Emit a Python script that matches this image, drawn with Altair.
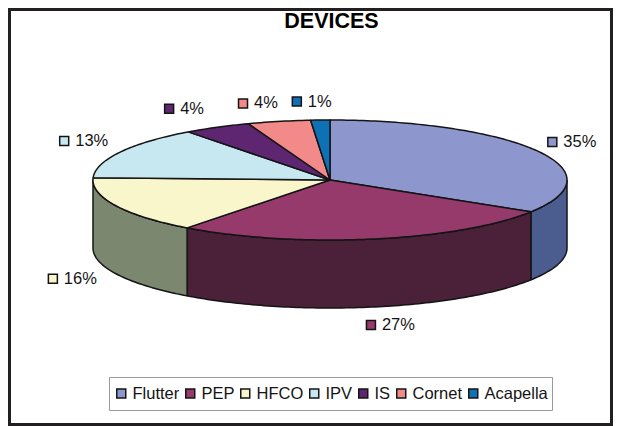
import math
import altair as alt
import pandas as pd

names = ["Flutter", "PEP", "HFCO", "IPV", "IS", "Cornet", "Acapella"]
shown = [35, 27, 16, 13, 4, 4, 1]
shares = [33.9, 26.4, 15.3, 14.2, 4.6, 4.3, 1.3]  # slice sizes as drawn in the picture
top_colors = ["#8e97cd", "#953a6b", "#f9f6cc", "#c7e8f1", "#5e2570", "#f38a8a", "#0f71b5"]
side_colors = ["#4b5d8e", "#4a2139", "#7c8770", "#7c8770", "#7c8770", "#7c8770", "#7c8770"]

# style: pie geometry and label placement
CX, CY, RX, RY, DEPTH = 330, 180, 237, 60, 68
label_off = [(15, -9), (-2, 86), (-63, 73), (-56, -11), (-48, -18.5), (-36, -18), (-23.5, -18.5)]
FONT = "Liberation Sans"
INK = "#141414"


def rim(deg, drop=0.0):
    a = math.radians(deg)
    return CX + RX * math.sin(a), CY - RY * math.cos(a) + drop


tops, sides, labels = [], [], []
start = 0.0
for n, sh, pct, off in zip(names, shares, shown, label_off):
    end = start + sh * 3.6
    steps = max(2, int(end - start))
    arc = [start + (end - start) * k / steps for k in range(steps + 1)]
    pts = [(CX, CY)] + [rim(d) for d in arc] + [(CX, CY)]
    tops += [{"name": n, "i": i, "x": p[0], "y": p[1]} for i, p in enumerate(pts)]
    lo, hi = max(start, 90), min(end, 270)
    if hi > lo:
        st = max(2, int(hi - lo))
        front = [lo + (hi - lo) * k / st for k in range(st + 1)]
        sp = [rim(d) for d in front] + [rim(d, DEPTH) for d in reversed(front)]
        sp.append(sp[0])
        sides += [{"name": n, "i": i, "x": p[0], "y": p[1]} for i, p in enumerate(sp)]
    mx, my = rim((start + end) / 2)
    labels.append({"name": n, "x": mx + off[0], "y": my + off[1], "tx": mx + off[0] + 11, "label": f"{pct}%"})
    start = end

xs = alt.Scale(domain=[8, 613], range=[0, 605])
ys = alt.Scale(domain=[8, 426], range=[0, 418])
X = alt.X("x:Q", scale=xs, axis=None)
Y = alt.Y("y:Q", scale=ys, axis=None)

side_layer = alt.Chart(pd.DataFrame(sides)).mark_line(stroke=INK, strokeWidth=1.5, strokeJoin="round").encode(
    x=X, y=Y, order="i:Q",
    fill=alt.Fill("name:N", scale=alt.Scale(domain=names, range=side_colors), legend=None),
)
top_layer = alt.Chart(pd.DataFrame(tops)).mark_line(stroke=INK, strokeWidth=1.5, strokeJoin="round").encode(
    x=X, y=Y, order="i:Q",
    fill=alt.Fill("name:N", scale=alt.Scale(domain=names, range=top_colors), legend=None),
)
lab = pd.DataFrame(labels)
keys = alt.Chart(lab).mark_square(size=81, opacity=1, stroke=INK, strokeWidth=1.5).encode(
    x=X, y=Y,
    fill=alt.Fill("name:N", scale=alt.Scale(domain=names, range=top_colors), legend=alt.Legend(
        title=None, orient="none", legendX=101, legendY=369, direction="horizontal", columns=7,
        symbolType="square", symbolSize=81, symbolStrokeColor=INK, symbolStrokeWidth=1.5,
        symbolOpacity=1, labelFont=FONT, labelFontSize=16.5, labelColor=INK, labelOffset=3,
        columnPadding=2.0, strokeColor="#999999", fillColor="white", padding=4, labelLimit=200,
        clipHeight=25,
    )),
)
texts = alt.Chart(lab).mark_text(align="left", baseline="middle", font=FONT, fontSize=16.5, color=INK).encode(
    x=alt.X("tx:Q", scale=xs, axis=None), y=Y, text="label:N",
)

chart = (
    alt.layer(side_layer, top_layer, keys, texts)
    .resolve_scale(fill="independent")
    .properties(
        width=605, height=418, padding=0, background="white",
        autosize=alt.AutoSizeParams(type="none"),
        title=alt.TitleParams("DEVICES", font=FONT, fontSize=21.5, fontWeight="bold", color="black",
                              anchor="middle", offset=0, dx=21, dy=41, baseline="alphabetic"),
    )
    .configure_view(stroke="#231f20", strokeWidth=6)
)

chart.save("out.html", embed_options={"renderer": "svg", "actions": False})
